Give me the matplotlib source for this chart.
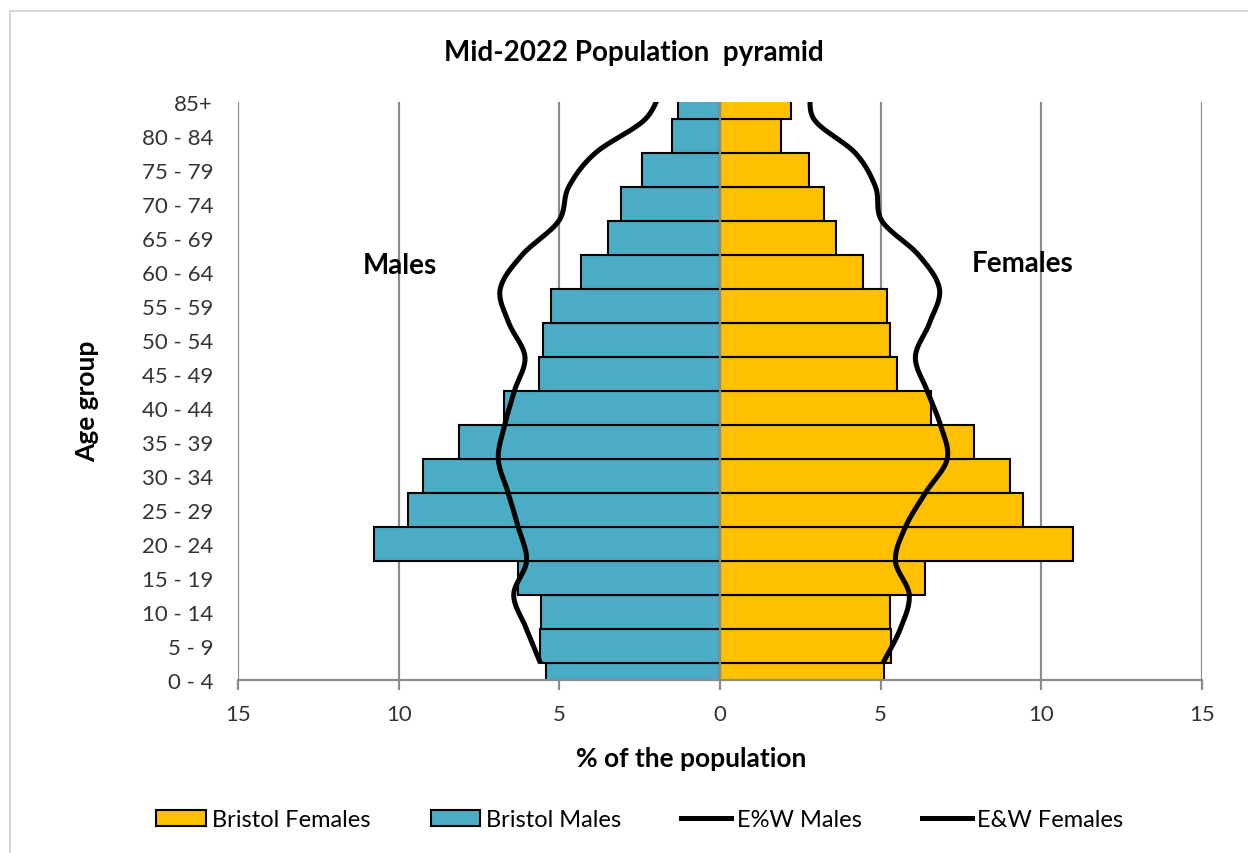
import numpy as np
import matplotlib.pyplot as plt
from matplotlib.lines import Line2D
from matplotlib.patches import Patch

plt.rcParams['font.family'] = ['Lato', 'DejaVu Sans']

# age bands, youngest first
age_groups = ['0 - 4', '5 - 9', '10 - 14', '15 - 19', '20 - 24', '25 - 29', '30 - 34',
              '35 - 39', '40 - 44', '45 - 49', '50 - 54', '55 - 59', '60 - 64',
              '65 - 69', '70 - 74', '75 - 79', '80 - 84', '85+']

# Bristol, % of population by sex
bristol_males = [5.41, 5.61, 5.57, 6.28, 10.77, 9.72, 9.25, 8.13, 6.73, 5.62,
                 5.50, 5.26, 4.34, 3.49, 3.09, 2.42, 1.50, 1.30]
bristol_females = [5.11, 5.32, 5.29, 6.39, 10.99, 9.44, 9.03, 7.91, 6.58, 5.52,
                   5.29, 5.21, 4.45, 3.60, 3.24, 2.77, 1.89, 2.20]

# England & Wales comparison
ew_males = [5.59, 6.02, 6.42, 6.02, 6.28, 6.59, 6.90, 6.70, 6.40, 6.07,
            6.57, 6.84, 6.16, 5.02, 4.71, 3.88, 2.32, 1.80]
ew_females = [5.07, 5.61, 5.89, 5.46, 5.77, 6.39, 7.07, 6.86, 6.45, 6.08,
              6.52, 6.83, 6.18, 5.04, 4.84, 4.21, 2.92, 2.85]

TEAL = '#4BACC6'
GOLD = '#FFC000'
GRID = '#8C8C8C'


def smooth(xs, ys, n=20):
    # Catmull-Rom curve through the points, like Excel's smoothed line
    p = np.column_stack([xs, ys]).astype(float)
    p = np.vstack([p[0], p, p[-1]])
    out = []
    t = np.linspace(0, 1, n, endpoint=False)[:, None]
    for i in range(1, len(p) - 2):
        p0, p1, p2, p3 = p[i - 1], p[i], p[i + 1], p[i + 2]
        seg = 0.5 * ((2 * p1) + (-p0 + p2) * t + (2 * p0 - 5 * p1 + 4 * p2 - p3) * t ** 2
                     + (-p0 + 3 * p1 - 3 * p2 + p3) * t ** 3)
        out.append(seg)
    out.append(p[-2][None, :])
    out = np.vstack(out)
    return out[:, 0], out[:, 1]


fig = plt.figure(figsize=(12.48, 8.54), dpi=100)
ax = fig.add_axes([238 / 1248, 1 - 681 / 854, (1202 - 238) / 1248, (681 - 103) / 854])

pos = np.arange(len(age_groups))
ax.barh(pos, -np.array(bristol_males), height=1.0, color=TEAL, edgecolor='black',
        linewidth=1.5, zorder=2)
ax.barh(pos, bristol_females, height=1.0, color=GOLD, edgecolor='black',
        linewidth=1.5, zorder=2)

# E&W lines sit between the bands
line_pos = pos + 0.5
mx, my = smooth(-np.array(ew_males), line_pos)
fx, fy = smooth(np.array(ew_females), line_pos)
ax.plot(mx, my, color='black', lw=3.6, zorder=4, solid_capstyle='butt')
ax.plot(fx, fy, color='black', lw=3.6, zorder=4, solid_capstyle='butt')

ax.set_xlim(-15, 15)
ax.set_ylim(0, 17)
ax.set_xticks(np.arange(-15, 16, 5))
ax.set_xticklabels([str(abs(v)) for v in range(-15, 16, 5)])
ax.set_yticks(pos)
ax.set_yticklabels(age_groups)

for v in range(-15, 16, 5):
    ax.axvline(v, color=GRID, lw=1.6, zorder=3 if v == 0 else 1)

for s in ['top', 'left', 'right']:
    ax.spines[s].set_visible(False)
ax.spines['bottom'].set_color(GRID)
ax.spines['bottom'].set_linewidth(1.6)
ax.spines['bottom'].set_zorder(5)
ax.tick_params(axis='x', colors=GRID, length=7, width=1.6, labelcolor='#333333',
               labelsize=16, pad=10)
ax.tick_params(axis='y', length=0, labelcolor='#333333', labelsize=16, pad=18)

ax.text(-9.96, 12.2, 'Males', ha='center', va='center', fontsize=20, fontweight='bold')
ax.text(9.43, 12.25, 'Females', ha='center', va='center', fontsize=20, fontweight='bold')

fig.text(634 / 1248, 1 - 53 / 854, 'Mid-2022 Population  pyramid', ha='center', va='center',
         fontsize=20, fontweight='bold')
fig.text(87 / 1248, 1 - 401 / 854, 'Age group', ha='center', va='center', rotation=90,
         fontsize=19, fontweight='bold')
fig.text(691 / 1248, 1 - 759 / 854, '% of the population', ha='center', va='center',
         fontsize=19, fontweight='bold')

handles = [Patch(facecolor=GOLD, edgecolor='black', linewidth=1.5),
           Patch(facecolor=TEAL, edgecolor='black', linewidth=1.5),
           Line2D([], [], color='black', lw=3.6),
           Line2D([], [], color='black', lw=3.6)]
labels = ['Bristol Females', 'Bristol Males', 'E%W Males', 'E&W Females']
fig.legend(handles, labels, loc='center', bbox_to_anchor=(640 / 1248, 1 - 821 / 854),
           ncol=4, frameon=False, fontsize=17, handlelength=2.1, handleheight=0.65,
           handletextpad=0.25, columnspacing=2.55)

# outer chart border
fig.add_artist(Line2D([10 / 1248, 10 / 1248], [0, 1 - 12 / 854], color='#D0D0D0', lw=1.2))
fig.add_artist(Line2D([10 / 1248, 1], [1 - 12 / 854, 1 - 12 / 854], color='#D0D0D0', lw=1.2))

fig.savefig('out.png', dpi=100)
